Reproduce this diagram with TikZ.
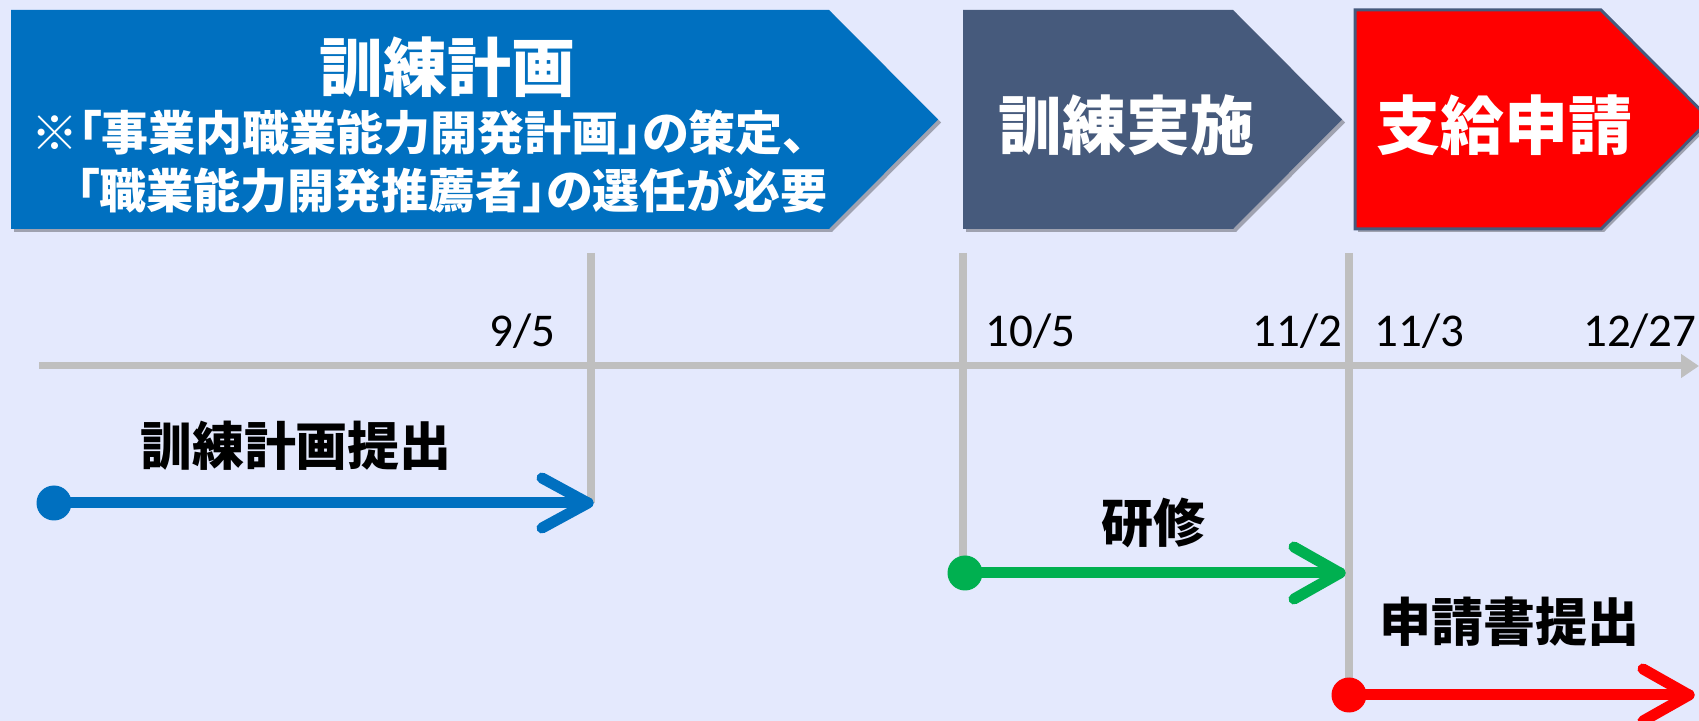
\documentclass[tikz,border=0pt]{standalone}
\usepackage{fontspec}
\newfontfamily\cjk{Noto Sans CJK JP}
\newfontfamily\cjkp{Noto Sans CJK JP}[RawFeature=+palt]
\newfontfamily\datefont{Carlito}
\usetikzlibrary{arrows.meta,calc,shadows}
\definecolor{bg}{RGB}{228,233,253}
\definecolor{pblue}{RGB}{0,112,192}
\definecolor{pslate}{RGB}{70,90,124}
\definecolor{pred}{RGB}{255,0,0}
\definecolor{pgreen}{RGB}{0,176,80}
\definecolor{axisgray}{RGB}{191,191,191}
\begin{document}
\begin{tikzpicture}[x=0.5pt,y=-0.5pt,
  phase/.style={drop shadow={opacity=0.3,shadow xshift=1.5pt,shadow yshift=-1.5pt,fill=black}},
  titletxt/.style={inner sep=0pt,text=white,font=\cjk\bfseries\fontsize{32}{32}\selectfont},
  subtxt/.style={inner sep=0pt,anchor=west,text=white,font=\cjkp\bfseries\fontsize{23.5}{23.5}\selectfont},
  labtxt/.style={inner sep=0pt,text=black,font=\cjk\bfseries\fontsize{26}{26}\selectfont},
  datetxt/.style={inner sep=0pt,text=black,font=\datefont\fontsize{23.5}{24}\selectfont},
  gridline/.style={draw=axisgray,line width=3.75pt},
  axisline/.style={draw=axisgray,line width=3.5pt,-{Triangle[length=9pt,width=11.5pt]}},
  arrline/.style={line width=5.5pt,line cap=round,line join=round},
  dot/.style={circle,inner sep=0pt,minimum size=17.5pt}
]
\fill[bg] (0,0) rectangle (1699,721);
\useasboundingbox (0,0) rectangle (1699,721);
\clip (0,0) rectangle (1699,721);

% phase shapes
\path[fill=pblue,phase] (11,10) -- (829,10) -- (938,119.5) -- (829,229) -- (11,229) -- cycle;
\path[fill=pslate,phase] (963,10) -- (1233,10) -- (1342,119.5) -- (1233,229) -- (963,229) -- cycle;
\path[fill=pred,draw=pslate,line width=1.5pt,phase] (1355,10) -- (1601,10) -- (1710,119.5) -- (1601,229) -- (1355,229) -- cycle;

\node[titletxt] (t1) at (447,67) {訓練計画};
\node[subtxt] (s1) at (31,133) {※「事業内職業能力開発計画」の策定、};
\node[subtxt] (s2) at (76,190) {「職業能力開発推薦者」の選任が必要};
\node[titletxt] (t2) at (1126,125) {訓練実施};
\node[titletxt] (t3) at (1504,125) {支給申請};

% timeline
\coordinate (ax0) at (39,366);
\coordinate (ax1) at (1699,366);
\coordinate (v1t) at (591,253);
\coordinate (v1b) at (591,503);
\coordinate (v2t) at (963,253);
\coordinate (v2b) at (963,560);
\coordinate (v3t) at (1349,253);
\coordinate (v3b) at (1349,685);
\draw[gridline] (v1t) -- (v1b);
\draw[gridline] (v2t) -- (v2b);
\draw[gridline] (v3t) -- (v3b);
\draw[axisline] (ax0) -- (ax1);

\node[datetxt,anchor=base east] (d1) at (556,347) {9/5};
\node[datetxt,anchor=base west] (d2) at (985,347) {10/5};
\node[datetxt,anchor=base east] (d3) at (1343,347) {11/2};
\node[datetxt,anchor=base west] (d4) at (1374,347) {11/3};
\node[datetxt,anchor=base east] (d5) at (1697,347) {12/27};

% arrows
\node[labtxt] (l1) at (296,446) {訓練計画提出};
\node[dot,fill=pblue] (bd) at (54,503) {};
\coordinate (be) at (588,503);
\draw[arrline,pblue] (bd.center) -- (be);
\draw[arrline,pblue] ($(be)+(-46,-25)$) -- (be) -- ($(be)+(-46,25)$);

\node[labtxt] (l2) at (1153,523) {研修};
\node[dot,fill=pgreen] (gd) at (965,573) {};
\coordinate (ge) at (1340,573);
\draw[arrline,pgreen] (gd.center) -- (ge);
\draw[arrline,pgreen] ($(ge)+(-46,-26)$) -- (ge) -- ($(ge)+(-46,26)$);

\node[labtxt] (l3) at (1509,622) {申請書提出};
\node[dot,fill=pred] (rd) at (1349,695) {};
\coordinate (re) at (1689,695);
\draw[arrline,pred] (rd.center) -- (re);
\draw[arrline,pred] ($(re)+(-46,-26)$) -- (re) -- ($(re)+(-46,26)$);
\end{tikzpicture}
\end{document}
